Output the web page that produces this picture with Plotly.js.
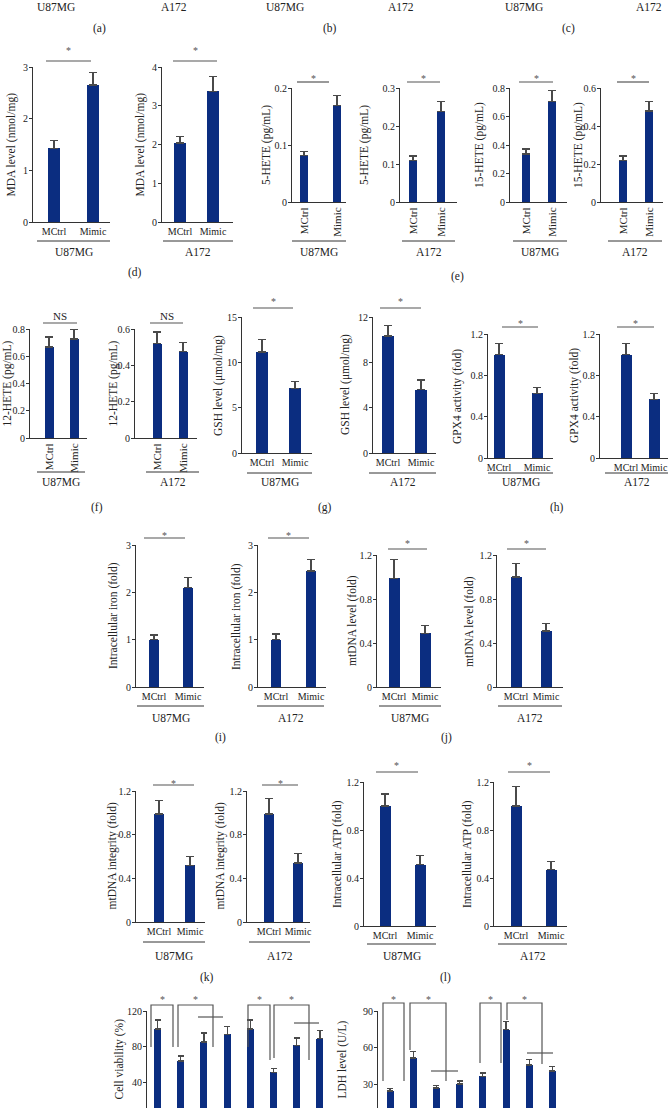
<!DOCTYPE html>
<html><head><meta charset="utf-8">
<script src="https://cdn.plot.ly/plotly-3.0.1.min.js"></script>
<style>html,body{margin:0;padding:0;background:#fff}#chart{width:670px;height:1108px}</style>
</head><body><div id="chart"></div>
<script>
// ---------------- DATA ----------------
const groups = ['MCtrl', 'Mimic'];
const mdaU87 = [1.43, 2.65],  mdaU87Err = [0.15, 0.25];
const mdaA172 = [2.04, 3.37], mdaA172Err = [0.17, 0.39];
const hete5U87 = [0.081, 0.169],  hete5U87Err = [0.008, 0.018];
const hete5A172 = [0.109, 0.238], hete5A172Err = [0.012, 0.026];
const hete15U87 = [0.337, 0.704], hete15U87Err = [0.035, 0.077];
const hete15A172 = [0.217, 0.479], hete15A172Err = [0.025, 0.049];
const hete12U87 = [0.668, 0.727], hete12U87Err = [0.073, 0.068];
const hete12A172 = [0.519, 0.475], hete12A172Err = [0.064, 0.052];
const gshU87 = [11.15, 7.14], gshU87Err = [1.35, 0.73];
const gshA172 = [10.32, 5.6], gshA172Err = [0.93, 0.85];
const gpx4U87 = [1.0, 0.626], gpx4U87Err = [0.107, 0.059];
const gpx4A172 = [1.0, 0.568], gpx4A172Err = [0.11, 0.058];
const ironU87 = [1.0, 2.1],  ironU87Err = [0.1, 0.21];
const ironA172 = [1.0, 2.45], ironA172Err = [0.12, 0.25];
const mtdnaU87 = [0.99, 0.49], mtdnaU87Err = [0.17, 0.07];
const mtdnaA172 = [1.0, 0.51], mtdnaA172Err = [0.12, 0.07];
const integU87 = [0.99, 0.52], integU87Err = [0.12, 0.08];
const integA172 = [0.99, 0.54], integA172Err = [0.14, 0.09];
const atpU87 = [1.0, 0.51], atpU87Err = [0.1, 0.08];
const atpA172 = [1.0, 0.47], atpA172Err = [0.16, 0.07];
const viability = [100, 64.5, 85.5, 94, 100, 52, 82, 89];
const viabilityErr = [10, 5.5, 10, 9, 10, 4, 8, 9];
const ldh = [24.3, 51.4, 26.7, 30, 36.3, 74.5, 45.6, 40.7];
const ldhErr = [1.7, 5, 2, 2.5, 2.8, 7, 4.5, 4];
const topCells = ['U87MG', 'A172', 'U87MG', 'A172', 'U87MG', 'A172'];
const letters = ['(a)', '(b)', '(c)', '(d)', '(e)', '(f)', '(g)', '(h)', '(i)', '(j)', '(k)', '(l)'];

// ---------------- LAYOUT SPEC (pixels) ----------------
const W = 670, H = 1108;
const px = x => x / W;
const py = y => 1 - y / H;
const FONT = 'Liberation Serif, Times New Roman, serif';
const BAR = '#0b2d80', AX = '#333333', TXT = '#222222', SIG = '#555555';

const panels = [
  {v: mdaU87, e: mdaU87Err, cell: 'U87MG', t: 'MDA level (nmol/mg)', tx: 13, x0: 33, x1: 110, b0: 54, b1: 93, bw: 12, top: 67, bot: 222, ymax: 3, dt: 1, rot: false, sig: [46, 91, 61, '*', 48], ul: [37, 110, 241, 251]},
  {v: mdaA172, e: mdaA172Err, cell: 'A172', t: 'MDA level (nmol/mg)', tx: 140, x0: 162, x1: 233, b0: 180, b1: 213, bw: 12, top: 67, bot: 222, ymax: 4, dt: 1, rot: false, sig: [173, 217, 61, '*', 48], ul: [163, 233, 241, 251]},
  {v: hete5U87, e: hete5U87Err, cell: 'U87MG', t: '5-HETE (pg/mL)', tx: 267, x0: 292, x1: 346, b0: 304, b1: 337, bw: 8, top: 88, bot: 202, ymax: 0.2, dt: 0.1, rot: true, sig: [297, 329, 82, '*', 75], ul: [292, 346, 241, 251]},
  {v: hete5A172, e: hete5A172Err, cell: 'A172', t: '5-HETE (pg/mL)', tx: 365, x0: 400, x1: 457, b0: 413, b1: 441, bw: 8, top: 88, bot: 202, ymax: 0.3, dt: 0.1, rot: true, sig: [407, 440, 82, '*', 75], ul: [402, 455, 241, 251]},
  {v: hete15U87, e: hete15U87Err, cell: 'U87MG', t: '15-HETE (pg/mL)', tx: 480, x0: 510, x1: 567, b0: 526, b1: 552, bw: 8, top: 88, bot: 202, ymax: 0.8, dt: 0.2, rot: true, sig: [519, 553, 82, '*', 75], ul: [513, 567, 241, 251]},
  {v: hete15A172, e: hete15A172Err, cell: 'A172', t: '15-HETE (pg/mL)', tx: 580, x0: 601, x1: 663, b0: 623, b1: 649, bw: 8, top: 88, bot: 202, ymax: 0.6, dt: 0.2, rot: true, sig: [617, 649, 82, '*', 75], ul: [608, 662, 241, 251]},
  {v: hete12U87, e: hete12U87Err, cell: 'U87MG', t: '12-HETE (pg/mL)', tx: 7, x0: 30, x1: 87, b0: 49, b1: 74, bw: 9, top: 329, bot: 438, ymax: 0.8, dt: 0.2, rot: true, sig: [43, 77, 323, 'NS', 316], ul: [37, 85, 472, 481]},
  {v: hete12A172, e: hete12A172Err, cell: 'A172', t: '12-HETE (pg/mL)', tx: 113, x0: 135, x1: 197, b0: 157, b1: 183, bw: 9, top: 329, bot: 438, ymax: 0.6, dt: 0.2, rot: true, sig: [150, 183, 323, 'NS', 316], ul: [146, 199, 472, 481]},
  {v: gshU87, e: gshU87Err, cell: 'U87MG', t: 'GSH level (\u03bcmol/mg)', tx: 218, x0: 242, x1: 312, b0: 262, b1: 295, bw: 12, top: 317, bot: 453, ymax: 15, dt: 5, rot: false, sig: [253, 293, 308, '*', 298], ul: [247, 312, 473, 481]},
  {v: gshA172, e: gshA172Err, cell: 'A172', t: 'GSH level (\u03bcmol/mg)', tx: 345, x0: 373, x1: 436, b0: 388, b1: 421, bw: 12, top: 317, bot: 453, ymax: 12, dt: 4, rot: false, sig: [380, 421, 308, '*', 298], ul: [369, 436, 473, 481]},
  {v: gpx4U87, e: gpx4U87Err, cell: 'U87MG', t: 'GPX4 activity (fold)', tx: 458, x0: 488, x1: 553, b0: 499, b1: 537, bw: 11, top: 334, bot: 458, ymax: 1.2, dt: 0.4, rot: false, sig: [502, 538, 327, '*', 321], ul: [488, 553, 473, 481]},
  {v: gpx4A172, e: gpx4A172Err, cell: 'A172', t: 'GPX4 activity (fold)', tx: 575, x0: 600, x1: 668, b0: 626, b1: 654, bw: 11, top: 334, bot: 458, ymax: 1.2, dt: 0.4, rot: false, sig: [617, 654, 327, '*', 321], ul: [605, 668, 473, 481]},
  {v: ironU87, e: ironU87Err, cell: 'U87MG', t: 'Intracellular iron (fold)', tx: 113, x0: 136, x1: 204, b0: 154, b1: 188, bw: 10, top: 545, bot: 687, ymax: 3, dt: 1, rot: false, sig: [144, 185, 538, '*', 532], ul: [137, 204, 706, 717]},
  {v: ironA172, e: ironA172Err, cell: 'A172', t: 'Intracellular iron (fold)', tx: 237, x0: 258, x1: 326, b0: 276, b1: 311, bw: 10, top: 545, bot: 687, ymax: 3, dt: 1, rot: false, sig: [268, 309, 538, '*', 532], ul: [257, 324, 706, 717]},
  {v: mtdnaU87, e: mtdnaU87Err, cell: 'U87MG', t: 'mtDNA level (fold)', tx: 352, x0: 377, x1: 441, b0: 394, b1: 425, bw: 11, top: 555, bot: 687, ymax: 1.2, dt: 0.4, rot: false, sig: [388, 427, 549, '*', 540], ul: [379, 441, 706, 717]},
  {v: mtdnaA172, e: mtdnaA172Err, cell: 'A172', t: 'mtDNA level (fold)', tx: 469, x0: 497, x1: 563, b0: 516, b1: 546, bw: 11, top: 555, bot: 687, ymax: 1.2, dt: 0.4, rot: false, sig: [507, 546, 549, '*', 540], ul: [498, 562, 706, 717]},
  {v: integU87, e: integU87Err, cell: 'U87MG', t: 'mtDNA integrity (fold)', tx: 112, x0: 136, x1: 205, b0: 159, b1: 190, bw: 10, top: 791, bot: 922, ymax: 1.2, dt: 0.4, rot: false, sig: [153, 194, 785, '*', 780], ul: [143, 205, 942, 955]},
  {v: integA172, e: integA172Err, cell: 'A172', t: 'mtDNA integrity (fold)', tx: 220, x0: 247, x1: 310, b0: 269, b1: 298, bw: 10, top: 791, bot: 922, ymax: 1.2, dt: 0.4, rot: false, sig: [262, 298, 785, '*', 780], ul: [249, 310, 942, 955]},
  {v: atpU87, e: atpU87Err, cell: 'U87MG', t: 'Intracellular ATP (fold)', tx: 337, x0: 364, x1: 436, b0: 385, b1: 420, bw: 11, top: 782, bot: 926, ymax: 1.2, dt: 0.4, rot: false, sig: [376, 418, 772, '*', 762], ul: [367, 436, 944, 955]},
  {v: atpA172, e: atpA172Err, cell: 'A172', t: 'Intracellular ATP (fold)', tx: 467, x0: 494, x1: 567, b0: 516, b1: 551, bw: 11, top: 782, bot: 926, ymax: 1.2, dt: 0.4, rot: false, sig: [508, 550, 772, '*', 762], ul: [498, 567, 944, 955]}
];

const wide = [
  {v: viability, e: viabilityErr, t: 'Cell viability (%)', tx: 119, x0: 147, b0: 157.5, sp: 23.2, bw: 7, top: 1011, bot: 1108, yr: [12.2, 120], dt: 40},
  {v: ldh, e: ldhErr, t: 'LDH level (U/L)', tx: 342, x0: 378, b0: 390, sp: 23.2, bw: 7, top: 1011, bot: 1108, yr: [10.3, 90], dt: 30}
];

// brackets for the bottom row (pixel paths) and their labels
const brackets = [
  [[151, 1047], [151, 1005], [173, 1005], [173, 1047]],
  [[178, 1047], [178, 1005], [213, 1005], [213, 1047]],
  [[198, 1017], [223, 1017]],
  [[248, 1047], [248, 1005], [270, 1005], [270, 1060]],
  [[274, 1058], [274, 1005], [309, 1005], [309, 1060]],
  [[294, 1023], [319, 1023]],
  [[383, 1081], [383, 1003], [404, 1003], [404, 1081]],
  [[410, 1050], [410, 1003], [446, 1003], [446, 1081]],
  [[431, 1071], [458, 1071]],
  [[480, 1063], [480, 1003], [501, 1003], [501, 1063]],
  [[507, 1020], [507, 1003], [542, 1003], [542, 1064]],
  [[527, 1053], [553, 1053]]
];
const bracketStars = [[162, 997], [195.5, 997], [259, 997], [291.5, 997], [393.5, 996], [428, 996], [490.5, 996], [524.5, 996]];
const topCellPos = [[56, 7], [174, 7], [285, 7], [401, 7], [524, 7], [649, 7]];
const letterPos = [[99, 28], [330, 28], [568, 28], [135, 273], [458, 276], [97, 507], [325, 507], [557, 507], [220, 737], [447, 737], [207, 977], [445, 977]];

// ---------------- BUILD ----------------
const tickFont = {family: FONT, size: 10, color: TXT};
const xTickFont = {family: FONT, size: 10, color: TXT};
const rotTickFont = {family: FONT, size: 11, color: TXT};
const titleFont = {family: FONT, size: 11.5, color: TXT};
const traces = [];
const layout = {
  width: W, height: H, margin: {l: 0, r: 0, t: 0, b: 0},
  paper_bgcolor: '#fff', plot_bgcolor: '#fff', showlegend: false,
  font: {family: FONT, color: TXT}, bargap: 0,
  shapes: [], annotations: []
};

function yAxisBase(p, n, range) {
  return {
    domain: [py(p.bot), py(p.top)], anchor: 'x' + n, range: range, tick0: 0, dtick: p.dt,
    showline: true, linecolor: AX, linewidth: 1, ticks: 'outside', ticklen: 3, tickwidth: 1, tickcolor: AX,
    ticklabelstandoff: -1,
    tickfont: tickFont, showgrid: false, zeroline: false, fixedrange: true
  };
}
function yTitle(p) {
  const cx = Math.min(p.tx, p.x0 - 22);
  layout.annotations.push({xref: 'paper', yref: 'paper', x: px(cx), y: py((p.top + p.bot) / 2), text: p.t, textangle: -90, showarrow: false, xanchor: 'center', yanchor: 'middle', font: titleFont});
}

panels.forEach((p, i) => {
  const n = i === 0 ? '' : String(i + 1);
  const sp = p.b1 - p.b0;
  traces.push({
    type: 'bar', x: groups, y: p.v, xaxis: 'x' + n, yaxis: 'y' + n,
    width: p.bw / sp, marker: {color: BAR, line: {width: 0}},
    error_y: {type: 'data', symmetric: false, array: p.e, arrayminus: p.e.map(() => 0), color: '#4a4a4a', thickness: 1.2, width: 4},
    hoverinfo: 'skip', cliponaxis: false
  });
  layout['xaxis' + n] = {
    domain: [px(p.x0), px(p.x1)], anchor: 'y' + n, type: 'category',
    range: [-(p.b0 - p.x0) / sp, 1 + (p.x1 - p.b1) / sp],
    showline: true, linecolor: AX, linewidth: 1, ticks: '', tickangle: p.rot ? -90 : 0,
    tickfont: p.rot ? rotTickFont : xTickFont, showgrid: false, zeroline: false, fixedrange: true
  };
  layout['yaxis' + n] = yAxisBase(p, n, [0, p.ymax]);
  yTitle(p);
  // significance line + label
  const s = p.sig;
  layout.shapes.push({type: 'line', xref: 'paper', yref: 'paper', x0: px(s[0]), x1: px(s[1]), y0: py(s[2]), y1: py(s[2]), line: {color: SIG, width: 1.2}});
  layout.annotations.push({xref: 'paper', yref: 'paper', x: px((s[0] + s[1]) / 2), y: py(s[3] === '*' ? s[4] + 3 : s[4]), text: s[3], showarrow: false, xanchor: 'center', yanchor: 'middle', font: {family: FONT, size: s[3] === '*' ? 10 : 11, color: s[3] === '*' ? SIG : TXT}});
  // cell-line underline + label
  const u = p.ul;
  layout.shapes.push({type: 'line', xref: 'paper', yref: 'paper', x0: px(u[0]), x1: px(u[1]), y0: py(u[2]), y1: py(u[2]), line: {color: AX, width: 1}});
  layout.annotations.push({xref: 'paper', yref: 'paper', x: px((u[0] + u[1]) / 2), y: py(u[3] + 1), text: p.cell, showarrow: false, xanchor: 'center', yanchor: 'middle', font: titleFont});
});

wide.forEach((p, j) => {
  const n = String(panels.length + j + 1);
  const idx = p.v.map((_, k) => k);
  traces.push({
    type: 'bar', x: idx, y: p.v, xaxis: 'x' + n, yaxis: 'y' + n,
    width: p.bw / p.sp, marker: {color: BAR, line: {width: 0}},
    error_y: {type: 'data', symmetric: false, array: p.e, arrayminus: p.e.map(() => 0), color: '#4a4a4a', thickness: 1.2, width: 3},
    hoverinfo: 'skip'
  });
  const r0 = -(p.b0 - p.x0) / p.sp, r1 = p.v.length - 0.48;
  const x1 = p.b0 + r1 * p.sp;
  layout['xaxis' + n] = {
    domain: [px(p.x0), px(x1)], anchor: 'y' + n, range: [r0, r1],
    showline: false, showticklabels: false, ticks: '', showgrid: false, zeroline: false, fixedrange: true
  };
  layout['yaxis' + n] = yAxisBase(p, n, p.yr);
  yTitle(p);
});

brackets.forEach(b => {
  const d = b.map((pt, k) => (k === 0 ? 'M' : 'L') + px(pt[0]).toFixed(5) + ',' + py(pt[1]).toFixed(5)).join(' ');
  layout.shapes.push({type: 'path', xref: 'paper', yref: 'paper', path: d, line: {color: SIG, width: 1.2}});
});
bracketStars.forEach(s => {
  layout.annotations.push({xref: 'paper', yref: 'paper', x: px(s[0]), y: py(s[1] + 3), text: '*', showarrow: false, xanchor: 'center', yanchor: 'middle', font: {family: FONT, size: 10, color: SIG}});
});
topCells.forEach((c, k) => {
  layout.annotations.push({xref: 'paper', yref: 'paper', x: px(topCellPos[k][0]), y: py(topCellPos[k][1]), text: c, showarrow: false, xanchor: 'center', yanchor: 'middle', font: titleFont});
});
letters.forEach((c, k) => {
  layout.annotations.push({xref: 'paper', yref: 'paper', x: px(letterPos[k][0]), y: py(letterPos[k][1]), text: c, showarrow: false, xanchor: 'center', yanchor: 'middle', font: titleFont});
});

Plotly.newPlot('chart', traces, layout, {staticPlot: true, displayModeBar: false});
</script>
</body></html>
